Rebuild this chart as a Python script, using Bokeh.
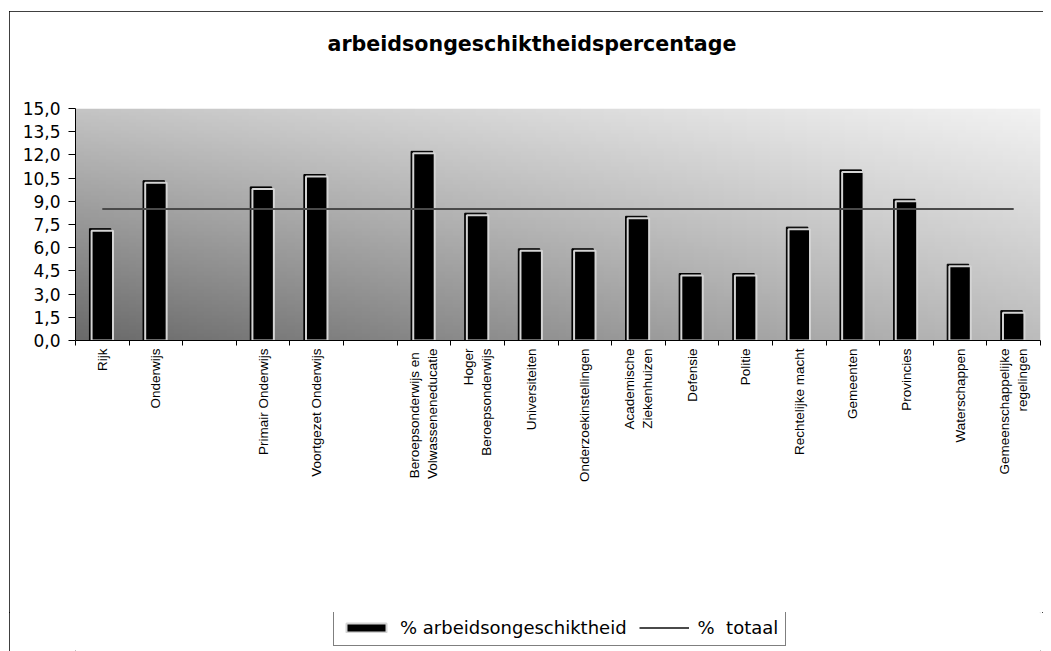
import math
import numpy as np
from bokeh.plotting import figure
from bokeh.layouts import column
from bokeh.models import (ColumnDataSource, Range1d, FixedTicker, Legend, LegendItem, Title)
from bokeh.transform import dodge
from bokeh.embed import file_html
from bokeh.resources import INLINE

# ---- data ----
categories = ["Rijk", "Onderwijs", "", "Primair Onderwijs", "Voortgezet Onderwijs", " ",
              "Beroepsonderwijs  en\nVolwasseneneducatie", "Hoger\nBeroepsonderwijs",
              "Universiteiten", "Onderzoekinstellingen", "Academische\nZiekenhuizen",
              "Defensie", "Politie", "Rechtelijke macht", "Gemeenten", "Provincies",
              "Waterschappen", "Gemeenschappelijke\nregelingen"]
pct_ao = [7.1, 10.2, None, 9.8, 10.6, None, 12.1, 8.1, 5.8, 5.8, 7.9,
          4.2, 4.2, 7.2, 10.9, 9.0, 4.8, 1.8]
pct_totaal = 8.5
y_ticks = [0, 1.5, 3, 4.5, 6, 7.5, 9, 10.5, 12, 13.5, 15]
y_tick_labels = ["0,0", "1,5", "3,0", "4,5", "6,0", "7,5", "9,0", "10,5", "12,0", "13,5", "15,0"]
legend_labels = ["% arbeidsongeschiktheid", "%  totaal"]

pos = list(range(1, len(categories) + 1))
bx = [p_ for p_, v in zip(pos, pct_ao) if v is not None]
bv = [v for v in pct_ao if v is not None]
src = ColumnDataSource(dict(x=bx, top=bv))

BAR_STYLE = dict(fill_color="black", line_color="#d4d4d4", line_width=2)
LINE_STYLE = dict(line_color="#4a4a4a", line_width=2)

p = figure(width=1034, height=601, output_backend="svg", toolbar_location=None,
           x_range=Range1d(0.5, len(categories) + 0.5), y_range=Range1d(0, 15),
           min_border_left=66, min_border_right=3, min_border_top=97, min_border_bottom=272)
p.background_fill_color = "white"
p.border_fill_color = "white"
p.outline_line_color = None
p.grid.visible = False

# title
p.title.text = "arbeidsongeschiktheidspercentage"
p.title.text_font = "DejaVu Sans"
p.title.text_font_style = "bold"
p.title.text_font_size = "20.6px"
p.title.align = "left"
p.title.offset = 252
p.title.text_color = "black"
# blank spacer between title and plot area
p.add_layout(Title(text=" ", text_font_size="14px", standoff=30), "above")

# gradient background of plot area
ny, nx = 64, 128
u = np.linspace(0, 1, nx)[None, :]
w = np.linspace(0, 1, ny)[:, None]
bl, tl, br, tr = 106.0, 196.0, 188.0, 242.0
val = bl * (1 - u) * (1 - w) + br * u * (1 - w) + tl * (1 - u) * w + tr * u * w
img = np.empty((ny, nx), dtype=np.uint32)
view = img.view(dtype=np.uint8).reshape((ny, nx, 4))
g = val.astype(np.uint8)
view[:, :, 0] = g
view[:, :, 1] = g
view[:, :, 2] = g
view[:, :, 3] = 255
p.image_rgba(image=[img], x=0.5, y=0, dw=len(categories), dh=15)

# bars: shadow + front
p.vbar(x=dodge("x", -0.04), top=dodge("top", 0.13), width=0.40, source=src,
       fill_color="black", line_color="black", line_width=1)
p.vbar(x="x", top="top", width=0.40, source=src, **BAR_STYLE)

# total line
p.line(x=[pos[0], pos[-1]], y=[pct_totaal, pct_totaal], **LINE_STYLE)

# y axis
p.yaxis.ticker = FixedTicker(ticks=y_ticks)
p.yaxis.major_label_overrides = {t: l for t, l in zip(y_ticks, y_tick_labels)}
p.yaxis.major_label_text_font = "DejaVu Sans"
p.yaxis.major_label_text_font_size = "17px"
p.yaxis.major_label_text_color = "black"
p.yaxis.axis_line_color = "black"
p.yaxis.major_tick_line_color = "black"
p.yaxis.major_tick_in = 0
p.yaxis.major_tick_out = 7
p.yaxis.minor_tick_line_color = None
p.yaxis.major_label_standoff = 8

# x axis
p.xaxis.ticker = FixedTicker(ticks=pos, minor_ticks=[x + 0.5 for x in range(0, len(categories) + 1)])
p.xaxis.major_label_overrides = {k: c for k, c in zip(pos, categories)}
p.xaxis.major_label_orientation = math.pi / 2
p.xaxis.major_label_text_font = "Liberation Sans"
p.xaxis.major_label_text_font_size = "13.5px"
p.xaxis.major_label_text_color = "black"
p.xaxis.major_tick_line_color = None
p.xaxis.minor_tick_line_color = "black"
p.xaxis.minor_tick_in = 0
p.xaxis.minor_tick_out = 5
p.xaxis.axis_line_color = "black"
p.xaxis.major_label_standoff = 2

# legend strip (its frame is aligned with the main frame by the column layout)
lf = figure(width=1034, height=39, output_backend="svg", toolbar_location=None,
            x_range=Range1d(0, 1), y_range=Range1d(0, 1),
            min_border=0, min_border_left=0, min_border_right=0,
            min_border_top=0, min_border_bottom=0)
lf.axis.visible = False
lf.grid.visible = False
lf.outline_line_color = None
lf.background_fill_color = "white"
lf.border_fill_color = "white"
# legend proxies, placed outside the visible range
r_bar = lf.vbar(x=[5], top=[5], bottom=[4], width=0.4, **BAR_STYLE)
r_line = lf.line(x=[5, 6], y=[5, 5], **LINE_STYLE)
legend = Legend(items=[LegendItem(label=legend_labels[0], renderers=[r_bar]),
                       LegendItem(label=legend_labels[1], renderers=[r_line])],
                orientation="horizontal", location=(258, 5),
                label_text_font="DejaVu Sans", label_text_font_size="18px",
                label_text_color="black",
                glyph_width=50, glyph_height=11, label_standoff=9, spacing=12,
                padding=7, margin=0, border_line_color="black", border_line_width=1,
                background_fill_color="white", background_fill_alpha=1)
lf.add_layout(legend, "center")

layout = column(p, lf, spacing=0)
layout.margin = (11, 0, 0, 9)
layout.styles = {"outline": "1px solid black", "outline-offset": "-1px"}

open("out.html", "w").write(file_html(layout, INLINE))
